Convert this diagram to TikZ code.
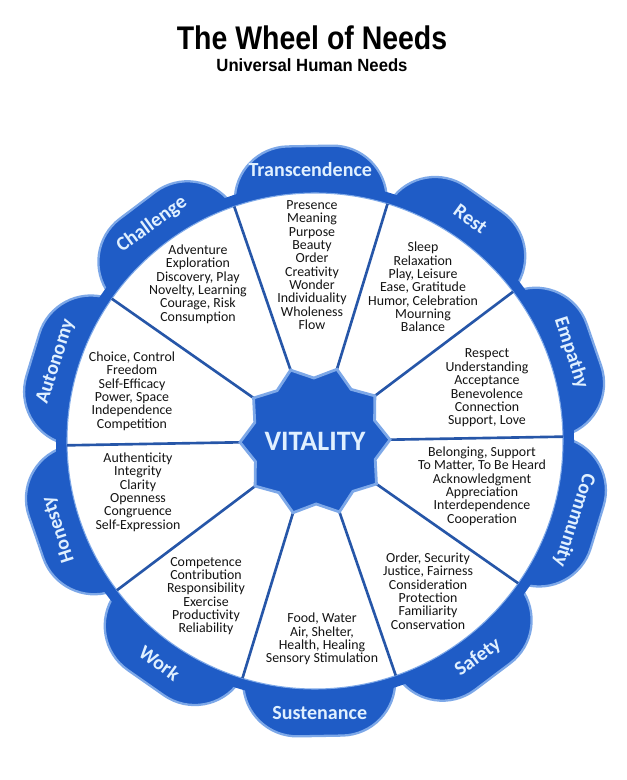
\documentclass[tikz,border=0pt]{standalone}
\usepackage{fontspec}
\newfontfamily\needsfont{Carlito}
\newfontfamily\titlefont{Liberation Sans}
\definecolor{wheelblue}{RGB}{31,92,198}
\definecolor{rimblue}{RGB}{125,168,232}
\definecolor{lineblue}{RGB}{38,86,168}
\definecolor{tabtext}{RGB}{224,240,255}
\tikzset{
  needs/.style={align=center, inner sep=0pt, text=black!92,
    font=\needsfont\fontsize{7.9}{7.6}\selectfont},
  tablabel/.style={inner sep=0pt, text=tabtext,
    font=\needsfont\bfseries\fontsize{11.4}{12}\selectfont},
  lobe/.style={fill=wheelblue, draw=rimblue, line width=1.3pt},
  divider/.style={draw=lineblue, line width=1.5pt},
  hub/.style={fill=wheelblue, draw=rimblue, line width=1.6pt},
}
\begin{document}
\begin{tikzpicture}[x=0.02cm, y=0.02cm]%
\useasboundingbox (-315,-339) rectangle (311,441);
\fill[white] (-315,-339) rectangle (311,441);
%
\def\lobeHalf{76}
\def\lobeTop{295}
\def\lobeCorner{54}
\def\ringRadius{259}
\def\discRadius{248}
\def\drawlobe(#1)% Syntax: (direction of the lobe)
{ \path[lobe, rotate=#1-90] (-\lobeHalf,200) -- (-\lobeHalf,\lobeTop-\lobeCorner)
  arc (180:90:\lobeCorner) -- (\lobeHalf-\lobeCorner,\lobeTop)
  arc (90:0:\lobeCorner) -- (\lobeHalf,200) -- cycle; };
%
\begin{scope}[rotate=1]
\drawlobe(90) \drawlobe(54) \drawlobe(18) \drawlobe(-18) \drawlobe(-54)
\drawlobe(-90) \drawlobe(-126) \drawlobe(-162) \drawlobe(162) \drawlobe(126)
\fill[wheelblue] (0,0) circle (\ringRadius);
\path[fill=white, draw=rimblue, line width=0.6pt] (0,0) circle (\discRadius);
%
\draw[divider] (0:75) -- (0:\discRadius) (36:75) -- (36:\discRadius)
  (72:75) -- (72:\discRadius) (108:75) -- (108:\discRadius)
  (144:75) -- (144:\discRadius) (180:75) -- (180:\discRadius)
  (216:75) -- (216:\discRadius) (252:75) -- (252:\discRadius)
  (288:75) -- (288:\discRadius) (324:75) -- (324:\discRadius);
%
\path[hub] (0:75) -- (18:63) -- (36:75) -- (54:63) -- (72:75) -- (90:63)
  -- (108:75) -- (126:63) -- (144:75) -- (162:63) -- (180:75) -- (198:63)
  -- (216:75) -- (234:63) -- (252:75) -- (270:63) -- (288:75) -- (306:63)
  -- (324:75) -- (342:63) -- cycle;
%
\node[tablabel] (transcendence) at (90:271) {Transcendence};
\node[tablabel, rotate=-36] (rest) at (54:271) {Rest};
\node[tablabel, rotate=-72] (empathy) at (18:271) {Empathy};
\node[tablabel, rotate=-108] (community) at (-18:271) {Community};
\node[tablabel, rotate=36] (safety) at (-54:271) {Safety};
\node[tablabel] (sustenance) at (-90:272) {Sustenance};
\node[tablabel, rotate=-36] (work) at (-126:271) {Work};
\node[tablabel, rotate=108] (honesty) at (-162:271) {Honesty};
\node[tablabel, rotate=72] (autonomy) at (162:271) {Autonomy};
\node[tablabel, rotate=36] (challenge) at (126:271) {Challenge};
\end{scope}
%
\node[text=tabtext, font=\needsfont\bfseries\fontsize{16}{18}\selectfont] (vitality) at (0,0) {VITALITY};
%
\node[needs] (transcendence-needs) at (-3,176) {Presence\\Meaning\\Purpose\\Beauty\\Order\\Creativity\\Wonder\\Individuality\\Wholeness\\Flow};
\node[needs] (rest-needs) at (108,154) {Sleep\\Relaxation\\Play, Leisure\\Ease, Gratitude\\Humor, Celebration\\Mourning\\Balance};
\node[needs] (empathy-needs) at (172,53) {Respect\\Understanding\\Acceptance\\Benevolence\\Connection\\Support, Love};
\node[needs] (community-needs) at (167,-45) {Belonging, Support\\To Matter, To Be Heard\\Acknowledgment\\Appreciation\\Interdependence\\Cooperation};
\node[needs] (safety-needs) at (113,-150) {Order, Security\\Justice, Fairness\\Consideration\\Protection\\Familiarity\\Conservation};
\node[needs] (sustenance-needs) at (7,-198) {Food, Water\\Air, Shelter,\\Health, Healing\\Sensory Stimulation};
\node[needs] (work-needs) at (-109,-155) {Competence\\Contribution\\Responsibility\\Exercise\\Productivity\\Reliability};
\node[needs] (honesty-needs) at (-177,-51) {Authenticity\\Integrity\\Clarity\\Openness\\Congruence\\Self-Expression};
\node[needs] (autonomy-needs) at (-183,50) {Choice, Control\\Freedom\\Self-Efficacy\\Power, Space\\Independence\\Competition};
\node[needs] (challenge-needs) at (-117,157) {Adventure\\Exploration\\Discovery, Play\\Novelty, Learning\\Courage, Risk\\Consumption};
%
\node[anchor=base, inner sep=0pt] (title) at (-3,391) {\titlefont\bfseries\fontsize{16.2}{18}\selectfont\scalebox{1}[1.15]{The Wheel of Needs}};
\node[anchor=base, inner sep=0pt] (subtitle) at (-3,369) {\titlefont\bfseries\fontsize{9.5}{11}\selectfont\scalebox{1}[1.06]{Universal Human Needs}};
%
\end{tikzpicture}
\end{document}
